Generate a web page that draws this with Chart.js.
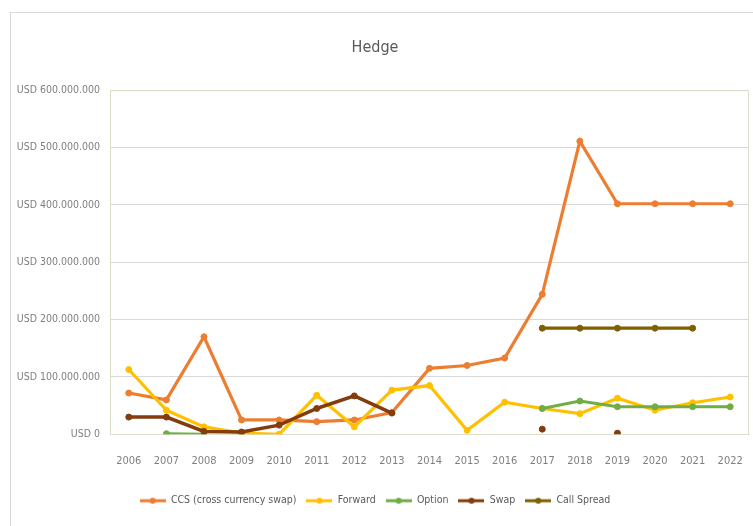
<!DOCTYPE html>
<html>
<head>
<meta charset="utf-8">
<script src="https://cdn.jsdelivr.net/npm/chart.js@4/dist/chart.umd.min.js"></script>
<style>
  html, body { margin: 0; padding: 0; background: #ffffff; }
  #wrap { position: relative; width: 753px; height: 526px; overflow: hidden; }
  #frame { position: absolute; left: 10px; top: 12px; width: 800px; height: 600px; border: 1px solid #d9d9d9; box-sizing: border-box; }
  canvas { position: absolute; left: 0; top: 0; }
</style>
</head>
<body>
<div id="wrap">
  <div id="frame"></div>
  <canvas id="c" width="753" height="526"></canvas>
</div>
<script>
const years = ['2006','2007','2008','2009','2010','2011','2012','2013','2014','2015','2016','2017','2018','2019','2020','2021','2022'];
const ccs = [72e6, 60e6, 170e6, 25e6, 25e6, 22e6, 25e6, 38e6, 115e6, 120e6, 133e6, 244e6, 511e6, 402e6, 402e6, 402e6, 402e6];
const forward = [113e6, 42e6, 13e6, 2e6, 0, 68e6, 13e6, 77e6, 85e6, 7e6, 56e6, 45e6, 36e6, 63e6, 42e6, 55e6, 65e6];
const option = [null, 1e6, 0, null, null, null, null, null, null, null, null, 45e6, 58e6, 48e6, 48e6, 48e6, 48e6];
const swap = [30e6, 30e6, 5e6, 4e6, 16e6, 45e6, 67e6, 37e6, null, null, null, 9e6, null, 2e6, null, null, null];
const callSpread = [null, null, null, null, null, null, null, null, null, null, null, 185e6, 185e6, 185e6, 185e6, 185e6, null];
const seriesNames = ['CCS (cross currency swap)', 'Forward', 'Option', 'Swap', 'Call Spread'];
const seriesColors = ['#ED7D31', '#FFC000', '#70AD47', '#843C0C', '#7F6000'];
const seriesData = [ccs, forward, option, swap, callSpread];

const FONT = "'Liberation Sans Narrow', 'DejaVu Sans Condensed', 'Liberation Sans', sans-serif";

function legendIcon(color) {
  const cv = document.createElement('canvas');
  cv.width = 26; cv.height = 8;
  const g = cv.getContext('2d');
  g.strokeStyle = color; g.lineWidth = 3;
  g.beginPath(); g.moveTo(0, 4); g.lineTo(26, 4); g.stroke();
  g.fillStyle = color;
  g.beginPath(); g.arc(13, 4, 3, 0, Math.PI * 2); g.fill();
  return cv;
}

function fmt(v) {
  return 'USD ' + Math.round(v).toString().replace(/\B(?=(\d{3})+(?!\d))/g, '.');
}

const datasets = seriesNames.map((name, i) => ({
  label: name,
  data: seriesData[i],
  borderColor: seriesColors[i],
  backgroundColor: seriesColors[i],
  borderWidth: i === 3 ? 3.5 : 3.2,
  pointRadius: 3,
  pointHoverRadius: 3,
  pointBorderWidth: 1,
  pointBackgroundColor: seriesColors[i],
  pointBorderColor: seriesColors[i],
  spanGaps: false,
  tension: 0,
  order: 5 - i
}));

new Chart(document.getElementById('c'), {
  type: 'line',
  data: { labels: years, datasets: datasets },
  options: {
    responsive: false,
    animation: false,
    devicePixelRatio: 1,
    layout: { padding: { left: 0, right: 3, top: 0, bottom: 10 } },
    plugins: {
      tooltip: { enabled: false },
      title: {
        display: true,
        text: 'Hedge',
        color: '#595959',
        font: { family: FONT, size: 16, weight: 'normal' },
        padding: { top: 38, bottom: 33 }
      },
      legend: {
        position: 'bottom',
        labels: {
          usePointStyle: true,
          pointStyleWidth: 26,
          color: '#595959',
          font: { family: FONT, size: 10.5 },
          padding: 10,
          generateLabels: (chart) => seriesNames.map((n, i) => ({
            text: n,
            pointStyle: legendIcon(seriesColors[i]),
            fillStyle: seriesColors[i],
            strokeStyle: seriesColors[i],
            lineWidth: 0,
            hidden: false,
            datasetIndex: i,
            fontColor: '#595959'
          }))
        }
      }
    },
    scales: {
      x: {
        type: 'category',
        offset: true,
        afterFit: (s) => { s.paddingRight = 0; s.paddingLeft = 0; s.height = s.height - 2; },
        grid: { display: false, drawTicks: false },
        border: { display: true, color: '#dde0c8', width: 1 },
        ticks: { color: '#7f7f7f', font: { family: FONT, size: 11 }, padding: 20, maxRotation: 0, autoSkip: false }
      },
      y: {
        min: 0,
        max: 600e6,
        afterFit: (s) => { s.width = 110; },
        grid: { color: '#d9d9d9', drawTicks: false, lineWidth: 1 },
        border: { display: true, color: '#dde0c8', width: 1 },
        ticks: {
          stepSize: 100e6,
          color: '#7f7f7f',
          font: { family: FONT, size: 10.5 },
          padding: 10,
          callback: (v) => fmt(v)
        }
      }
    }
  },
  plugins: [{
    id: 'plotBorder',
    afterDraw(chart) {
      const a = chart.chartArea, g = chart.ctx;
      g.save();
      g.strokeStyle = '#dde0c8'; g.lineWidth = 1;
      g.beginPath();
      g.moveTo(a.left, a.top + 0.5); g.lineTo(a.right, a.top + 0.5);
      g.moveTo(a.right - 0.5, a.top); g.lineTo(a.right - 0.5, a.bottom);
      g.stroke();
      g.restore();
    }
  }]
});
</script>
</body>
</html>
